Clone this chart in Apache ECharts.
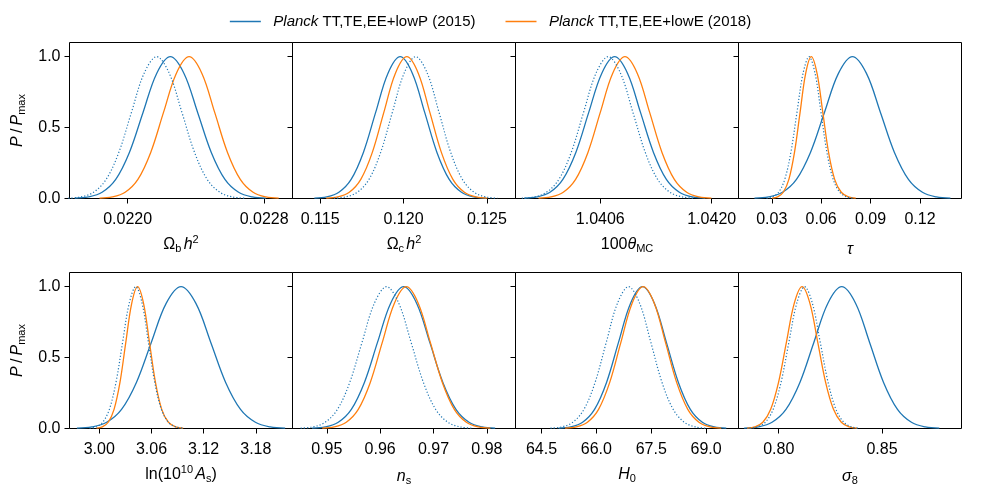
<!DOCTYPE html>
<html>
<head>
<meta charset="utf-8">
<title>Planck 2015 / 2018</title>
<script src="https://cdn.jsdelivr.net/npm/echarts@6.0.0/dist/echarts.min.js"></script>
<style>
    html, body { margin: 0; padding: 0; background: #fff; }
    #chart { width: 981px; height: 499px; }
</style>
</head>
<body>
<div id="chart"></div>
<script>
// heights (P/Pmax) of the points, left tail -> peak -> right tail
var levels = [0.002, 0.011, 0.044, 0.135, 0.325, 0.607, 0.882, 1, 0.882, 0.607, 0.325, 0.135, 0.044, 0.011, 0.002];

// x positions where each curve sits at those heights
var ombh2_2015 = [0.02169, 0.02177, 0.02185, 0.02193, 0.02201, 0.02209, 0.02217, 0.02225, 0.02233, 0.02241, 0.02249, 0.02257, 0.02265, 0.02273, 0.02281];
var ombh2_2018 = [0.021835, 0.02191, 0.021985, 0.02206, 0.022135, 0.02221, 0.022285, 0.02236, 0.022435, 0.02251, 0.022585, 0.02266, 0.022735, 0.02281, 0.022885];
var ombh2_dot  = [0.021652, 0.021726, 0.0218, 0.021874, 0.021948, 0.022022, 0.022096, 0.02217, 0.022244, 0.022318, 0.022392, 0.022466, 0.02254, 0.022614, 0.022688];

var omch2_2015 = [0.114655, 0.11539, 0.116125, 0.11686, 0.117595, 0.11833, 0.119065, 0.1198, 0.120535, 0.12127, 0.122005, 0.12274, 0.123475, 0.12421, 0.124945];
var omch2_2018 = [0.11537, 0.11606, 0.11675, 0.11744, 0.11813, 0.11882, 0.11951, 0.1202, 0.12089, 0.12158, 0.12227, 0.12296, 0.12365, 0.12434, 0.12503];
var omch2_dot  = [0.11583, 0.11653, 0.11723, 0.11793, 0.11863, 0.11933, 0.12003, 0.12073, 0.12143, 0.12213, 0.12283, 0.12353, 0.12423, 0.12493, 0.12563];

var theta_2015 = [1.039643, 1.039805, 1.039968, 1.04013, 1.040293, 1.040455, 1.040618, 1.04078, 1.040943, 1.041105, 1.041268, 1.04143, 1.041593, 1.041755, 1.041918];
var theta_2018 = [1.039825, 1.03998, 1.040135, 1.04029, 1.040445, 1.0406, 1.040755, 1.04091, 1.041065, 1.04122, 1.041375, 1.04153, 1.041685, 1.04184, 1.041995];
var theta_dot  = [1.039615, 1.03977, 1.039925, 1.04008, 1.040235, 1.04039, 1.040545, 1.0407, 1.040855, 1.04101, 1.041165, 1.04132, 1.041475, 1.04163, 1.041785];

var tau_2015 = [0.0195, 0.028, 0.0365, 0.045, 0.0535, 0.062, 0.0705, 0.079, 0.0875, 0.096, 0.1045, 0.113, 0.1215, 0.13, 0.1385];
var tau_2018 = [0.0302, 0.0336, 0.037, 0.0404, 0.0438, 0.0472, 0.0506, 0.054, 0.0575, 0.061, 0.0645, 0.0682, 0.0722, 0.0765, 0.081];
var tau_dot  = [0.0268, 0.0305, 0.0342, 0.0379, 0.0416, 0.0453, 0.049, 0.0527, 0.0563, 0.0599, 0.0635, 0.0673, 0.0713, 0.0755, 0.08];

var logA_2015 = [2.9743, 2.9914, 3.0085, 3.0256, 3.0427, 3.0598, 3.0769, 3.094, 3.1111, 3.1282, 3.1453, 3.1624, 3.1795, 3.1966, 3.2137];
var logA_2018 = [2.9968, 3.0035, 3.0103, 3.017, 3.0238, 3.0305, 3.0373, 3.044, 3.0509, 3.0577, 3.0646, 3.0718, 3.0795, 3.0878, 3.0965];
var logA_dot  = [2.9888, 2.9964, 3.004, 3.0116, 3.0192, 3.0268, 3.0344, 3.042, 3.0493, 3.0565, 3.0638, 3.0714, 3.0795, 3.0882, 3.0975];

var ns_2015 = [0.94725, 0.9497, 0.95215, 0.9546, 0.95705, 0.9595, 0.96195, 0.9644, 0.96685, 0.9693, 0.97175, 0.9742, 0.97665, 0.9791, 0.98155];
var ns_2018 = [0.94915, 0.9514, 0.95365, 0.9559, 0.95815, 0.9604, 0.96265, 0.9649, 0.96715, 0.9694, 0.97165, 0.9739, 0.97615, 0.9784, 0.98065];
var ns_dot  = [0.9451, 0.9474, 0.9497, 0.952, 0.9543, 0.9566, 0.9589, 0.9612, 0.9635, 0.9658, 0.9681, 0.9704, 0.9727, 0.975, 0.9773];

var H0_2015 = [64.968, 65.295, 65.623, 65.95, 66.278, 66.605, 66.933, 67.26, 67.588, 67.915, 68.243, 68.57, 68.898, 69.225, 69.553];
var H0_2018 = [65.145, 65.45, 65.755, 66.06, 66.365, 66.67, 66.975, 67.28, 67.585, 67.89, 68.195, 68.5, 68.805, 69.11, 69.415];
var H0_dot  = [64.745, 65.05, 65.355, 65.66, 65.965, 66.27, 66.575, 66.88, 67.185, 67.49, 67.795, 68.1, 68.405, 68.71, 69.015];

var s8_2015 = [0.78325, 0.79, 0.79675, 0.8035, 0.81025, 0.817, 0.82375, 0.8305, 0.83725, 0.844, 0.85075, 0.8575, 0.86425, 0.871, 0.87775];
var s8_2018 = [0.7847, 0.7885, 0.7923, 0.7961, 0.7999, 0.8037, 0.8075, 0.8113, 0.8151, 0.8189, 0.8227, 0.8265, 0.8303, 0.8341, 0.8379];
var s8_dot  = [0.7859, 0.7897, 0.7935, 0.7973, 0.8011, 0.8049, 0.8087, 0.8125, 0.8163, 0.8201, 0.8239, 0.8277, 0.8315, 0.8353, 0.8391];

// tick labels
var ombh2Ticks = [0.0220, 0.0228];
var omch2Ticks = [0.115, 0.120, 0.125];
var thetaTicks = [1.0406, 1.0420];
var tauTicks = [0.03, 0.06, 0.09, 0.12];
var logATicks = [3.00, 3.06, 3.12, 3.18];
var nsTicks = [0.95, 0.96, 0.97, 0.98];
var H0Ticks = [64.5, 66.0, 67.5, 69.0];
var s8Ticks = [0.80, 0.85];
var yTicks = [0, 0.5, 1.0];

var NAME15 = 'Planck TT,TE,EE+lowP (2015)';
var NAME18 = 'Planck TT,TE,EE+lowE (2018)';
var BLUE = '#1f77b4';
var ORANGE = '#ff7f0e';
var FONT = 'Liberation Sans, DejaVu Sans, sans-serif';

var panels = [
    { title: '{r|Ω}{s|b\u2009}{i|h}{p|2}', gap: 36, min: 0.021659, max: 0.022966, ticks: ombh2Ticks, dec: 4, a: ombh2_2015, b: ombh2_2018, d: ombh2_dot },
    { title: '{r|Ω}{s|c\u2009}{i|h}{p|2}', gap: 36, min: 0.113344, max: 0.126715, ticks: omch2Ticks, dec: 3, a: omch2_2015, b: omch2_2018, d: omch2_dot },
    { title: '{r|100}{i|θ}{s|MC}', gap: 36, min: 1.039535, max: 1.042336, ticks: thetaTicks, dec: 4, a: theta_2015, b: theta_2018, d: theta_dot },
    { title: '{i|τ}', gap: 41, min: 0.0098, max: 0.14523, ticks: tauTicks, dec: 2, a: tau_2015, b: tau_2018, d: tau_dot },
    { title: '{r|ln(10}{p|10\u2009}{i|A}{s|s}{r|)}', gap: 36, min: 2.96577, max: 3.22216, ticks: logATicks, dec: 2, a: logA_2015, b: logA_2018, d: logA_dot },
    { title: '{i|n}{s|s}', gap: 38, min: 0.943574, max: 0.985361, ticks: nsTicks, dec: 2, a: ns_2015, b: ns_2018, d: ns_dot },
    { title: '{i|H}{s|0}', gap: 36, min: 63.788, max: 69.887, ticks: H0Ticks, dec: 1, a: H0_2015, b: H0_2018, d: H0_dot },
    { title: '{i|σ}{s|8}', gap: 38, min: 0.78051, max: 0.8885, ticks: s8Ticks, dec: 2, a: s8_2015, b: s8_2018, d: s8_dot }
];

var rich = {
    r: { fontFamily: FONT, fontSize: 16, color: '#000', lineHeight: 20 },
    i: { fontFamily: FONT, fontSize: 16, color: '#000', fontStyle: 'italic', lineHeight: 20 },
    s: { fontFamily: FONT, fontSize: 11, color: '#000', padding: [9, 0, 0, 0] },
    p: { fontFamily: FONT, fontSize: 11, color: '#000', padding: [0, 0, 9, 0] }
};

function pts(xs) {
    return xs.map(function (x, k) { return [x, levels[k]]; });
}

var colLeft = [69.5, 292.5, 515.5, 738.5];
var rowTop = [42.5, 272.5];
var grids = [], xAxes = [], yAxes = [], series = [];

panels.forEach(function (p, i) {
    var row = Math.floor(i / 4), col = i % 4;
    grids.push({
        left: colLeft[col], top: rowTop[row], width: 223, height: 156,
        show: true, borderColor: '#000', borderWidth: 1, backgroundColor: 'transparent'
    });
    xAxes.push({
        type: 'value', gridIndex: i, min: p.min, max: p.max,
        axisLine: { show: false },
        axisTick: { show: true, length: 5, customValues: p.ticks, lineStyle: { color: '#000' } },
        axisLabel: {
            customValues: p.ticks, margin: 13, color: '#000', fontFamily: FONT, fontSize: 16,
            formatter: (function (dec) { return function (v) { return v.toFixed(dec); }; })(p.dec)
        },
        splitLine: { show: false },
        name: p.title, nameLocation: 'middle', nameGap: p.gap,
        nameTextStyle: { rich: rich, fontFamily: FONT, fontSize: 16, color: '#000' }
    });
    yAxes.push({
        type: 'value', gridIndex: i, min: 0, max: 1.1,
        axisLine: { show: false },
        axisTick: { show: true, length: 5, customValues: yTicks, lineStyle: { color: '#000' } },
        axisLabel: {
            show: col === 0, customValues: yTicks, margin: 9, color: '#000', fontFamily: FONT, fontSize: 16,
            formatter: function (v) { return v.toFixed(1); }
        },
        splitLine: { show: false },
        name: col === 0 ? '{i|P}{r|\u2009/\u2009}{i|P}{s|max}' : '',
        nameLocation: 'middle', nameRotate: 90, nameGap: 42,
        nameTextStyle: { rich: rich, fontFamily: FONT, fontSize: 16, color: '#000' }
    });
    series.push({
        name: NAME15, type: 'line', xAxisIndex: i, yAxisIndex: i, data: pts(p.a),
        smooth: 0.35, showSymbol: false, silent: true,
        lineStyle: { color: BLUE, width: 1.3 }, itemStyle: { color: BLUE }
    });
    series.push({
        name: NAME18, type: 'line', xAxisIndex: i, yAxisIndex: i, data: pts(p.b),
        smooth: 0.35, showSymbol: false, silent: true,
        lineStyle: { color: ORANGE, width: 1.3 }, itemStyle: { color: ORANGE }
    });
    series.push({
        name: 'dotted', type: 'line', xAxisIndex: i, yAxisIndex: i, data: pts(p.d),
        smooth: 0.35, showSymbol: false, silent: true,
        lineStyle: { color: BLUE, width: 1.2, type: [1.2, 2] }, itemStyle: { color: BLUE }
    });
});

var chart = echarts.init(document.getElementById('chart'));
chart.setOption({
    animation: false,
    backgroundColor: '#fff',
    legend: {
        data: [NAME15, NAME18],
        top: 9, left: 'center',
        icon: 'rect', itemWidth: 31, itemHeight: 1.5, itemGap: 30,
        formatter: function (name) { return '\u2002' + name.replace('Planck', '{i|Planck}'); },
        textStyle: {
            fontFamily: FONT, fontSize: 15, color: '#000',
            rich: { i: { fontFamily: FONT, fontSize: 15, color: '#000', fontStyle: 'italic' } }
        }
    },
    grid: grids,
    xAxis: xAxes,
    yAxis: yAxes,
    series: series
});
</script>
</body>
</html>
